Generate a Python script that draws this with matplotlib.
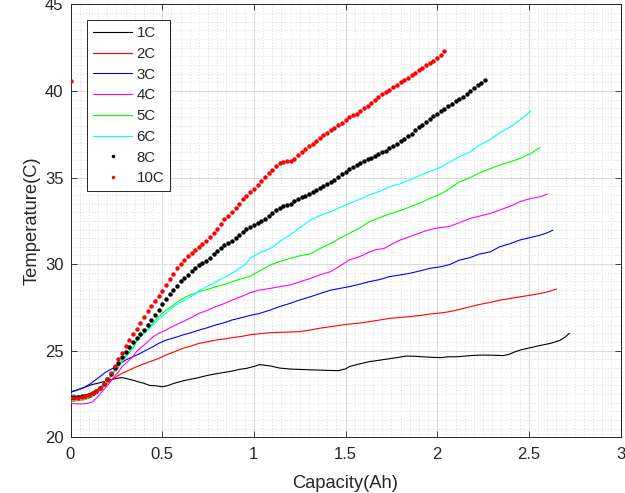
import matplotlib
matplotlib.use("Agg")
import matplotlib.pyplot as plt
from matplotlib.ticker import MultipleLocator

plt.rcParams['font.family'] = ['Liberation Sans', 'DejaVu Sans']

labels = ['1C', '2C', '3C', '4C', '5C', '6C', '8C', '10C']

cap_1c = [0.0, 0.04, 0.08, 0.12, 0.16, 0.21, 0.25, 0.28, 0.31, 0.34, 0.37, 0.40, 0.43, 0.47, 0.50, 0.53, 0.56, 0.60, 0.63, 0.67,
          0.70, 0.75, 0.79, 0.84, 0.88, 0.92, 0.96, 1.01, 1.03, 1.06, 1.09, 1.14, 1.20, 1.25, 1.30, 1.36, 1.41, 1.46, 1.50, 1.52,
          1.58, 1.63, 1.69, 1.74, 1.79, 1.83, 1.88, 1.92, 1.97, 2.02, 2.06, 2.11, 2.16, 2.20, 2.25, 2.30, 2.36, 2.39, 2.42, 2.46,
          2.51, 2.56, 2.62, 2.67, 2.70, 2.72]
temp_1c = [22.6, 22.75, 22.9, 23.05, 23.15, 23.3, 23.4, 23.45, 23.38, 23.3, 23.2, 23.12, 23.0, 22.97, 22.92, 22.98, 23.1, 23.22, 23.3, 23.38,
           23.45, 23.58, 23.66, 23.75, 23.82, 23.92, 23.98, 24.12, 24.2, 24.16, 24.12, 24.0, 23.94, 23.92, 23.9, 23.88, 23.86, 23.85, 23.95, 24.08,
           24.25, 24.37, 24.46, 24.54, 24.62, 24.69, 24.68, 24.65, 24.62, 24.6, 24.65, 24.65, 24.7, 24.73, 24.75, 24.74, 24.72, 24.78, 24.92, 25.06,
           25.18, 25.3, 25.43, 25.6, 25.8, 26.0]

cap_2c = [0.0, 0.04, 0.08, 0.12, 0.16, 0.21, 0.25, 0.28, 0.34, 0.39, 0.43, 0.48, 0.52, 0.57, 0.61, 0.66, 0.70, 0.75, 0.79, 0.84,
          0.88, 0.93, 0.98, 1.03, 1.09, 1.14, 1.20, 1.25, 1.31, 1.36, 1.42, 1.47, 1.52, 1.58, 1.63, 1.69, 1.74, 1.80, 1.85, 1.91,
          1.96, 2.02, 2.07, 2.12, 2.18, 2.23, 2.29, 2.34, 2.40, 2.45, 2.51, 2.56, 2.61, 2.65]
temp_2c = [22.34, 22.38, 22.44, 22.6, 22.85, 23.2, 23.5, 23.69, 23.98, 24.2, 24.36, 24.55, 24.75, 24.95, 25.13, 25.28, 25.42, 25.52, 25.61, 25.68,
           25.75, 25.82, 25.92, 25.98, 26.04, 26.06, 26.08, 26.1, 26.2, 26.3, 26.39, 26.47, 26.54, 26.6, 26.68, 26.78, 26.87, 26.92, 26.97, 27.04,
           27.12, 27.18, 27.26, 27.38, 27.54, 27.67, 27.79, 27.92, 28.02, 28.11, 28.21, 28.3, 28.42, 28.56]

cap_3c = [0.0, 0.03, 0.07, 0.11, 0.16, 0.19, 0.23, 0.27, 0.30, 0.34, 0.38, 0.41, 0.45, 0.48, 0.52, 0.57, 0.61, 0.66, 0.70, 0.75,
          0.79, 0.84, 0.88, 0.93, 0.98, 1.03, 1.09, 1.14, 1.20, 1.25, 1.31, 1.36, 1.42, 1.47, 1.52, 1.58, 1.63, 1.69, 1.74, 1.80,
          1.85, 1.91, 1.96, 2.02, 2.07, 2.12, 2.18, 2.23, 2.29, 2.34, 2.40, 2.45, 2.51, 2.56, 2.60, 2.63]
temp_3c = [22.63, 22.7, 22.85, 23.1, 23.5, 23.75, 23.98, 24.25, 24.46, 24.65, 24.84, 25.02, 25.23, 25.42, 25.61, 25.76, 25.9, 26.05, 26.19, 26.34,
           26.48, 26.62, 26.77, 26.9, 27.04, 27.15, 27.35, 27.55, 27.74, 27.93, 28.12, 28.3, 28.5, 28.6, 28.7, 28.85, 28.99, 29.12, 29.28, 29.38,
           29.47, 29.62, 29.76, 29.85, 29.98, 30.23, 30.38, 30.58, 30.71, 31.0, 31.19, 31.39, 31.54, 31.67, 31.81, 31.96]

cap_4c = [0.0, 0.03, 0.07, 0.10, 0.12, 0.15, 0.18, 0.21, 0.23, 0.26, 0.28, 0.31, 0.34, 0.36, 0.39, 0.42, 0.45, 0.48, 0.52, 0.56,
          0.61, 0.66, 0.70, 0.75, 0.79, 0.84, 0.88, 0.93, 0.98, 1.03, 1.09, 1.14, 1.20, 1.25, 1.31, 1.36, 1.42, 1.47, 1.52, 1.58,
          1.63, 1.67, 1.71, 1.76, 1.80, 1.84, 1.88, 1.93, 1.99, 2.07, 2.12, 2.18, 2.23, 2.29, 2.34, 2.40, 2.45, 2.51, 2.56, 2.60]
temp_4c = [21.96, 21.93, 21.93, 21.98, 22.05, 22.35, 22.73, 23.1, 23.4, 23.75, 24.07, 24.35, 24.65, 24.95, 25.23, 25.5, 25.8, 26.0, 26.19, 26.42,
           26.67, 26.92, 27.15, 27.35, 27.54, 27.73, 27.92, 28.12, 28.35, 28.5, 28.6, 28.7, 28.8, 28.98, 29.18, 29.38, 29.57, 29.9, 30.24, 30.45,
           30.7, 30.85, 30.9, 31.2, 31.4, 31.55, 31.7, 31.9, 32.07, 32.19, 32.39, 32.64, 32.77, 32.93, 33.12, 33.35, 33.6, 33.79, 33.89, 34.04]

cap_5c = [0.0, 0.03, 0.07, 0.10, 0.12, 0.15, 0.18, 0.21, 0.23, 0.26, 0.28, 0.31, 0.34, 0.36, 0.39, 0.42, 0.45, 0.47, 0.50, 0.53,
          0.56, 0.59, 0.63, 0.66, 0.70, 0.75, 0.79, 0.84, 0.88, 0.93, 0.98, 1.03, 1.09, 1.14, 1.20, 1.25, 1.31, 1.36, 1.42, 1.47,
          1.52, 1.58, 1.63, 1.69, 1.74, 1.80, 1.85, 1.91, 1.96, 2.02, 2.07, 2.12, 2.18, 2.23, 2.29, 2.34, 2.40, 2.45, 2.51, 2.56]
temp_5c = [22.05, 22.1, 22.15, 22.25, 22.34, 22.6, 22.92, 23.3, 23.69, 24.0, 24.36, 24.75, 25.13, 25.5, 25.9, 26.25, 26.58, 26.85, 27.15, 27.4,
           27.63, 27.88, 28.12, 28.25, 28.4, 28.55, 28.69, 28.83, 28.98, 29.15, 29.3, 29.6, 29.95, 30.15, 30.34, 30.48, 30.6, 30.9, 31.2, 31.5,
           31.78, 32.1, 32.45, 32.7, 32.9, 33.1, 33.3, 33.55, 33.8, 34.05, 34.37, 34.75, 35.0, 35.27, 35.52, 35.72, 35.91, 36.1, 36.39, 36.72]

cap_6c = [0.0, 0.0, 0.03, 0.07, 0.10, 0.12, 0.15, 0.18, 0.21, 0.23, 0.26, 0.28, 0.31, 0.34, 0.36, 0.39, 0.42, 0.45, 0.48, 0.52,
          0.55, 0.59, 0.63, 0.67, 0.70, 0.74, 0.78, 0.81, 0.85, 0.88, 0.92, 0.96, 0.98, 1.01, 1.04, 1.09, 1.14, 1.20, 1.25, 1.31,
          1.36, 1.42, 1.47, 1.52, 1.58, 1.63, 1.69, 1.74, 1.80, 1.85, 1.90, 1.96, 2.02, 2.07, 2.12, 2.18, 2.23, 2.29, 2.34, 2.40,
          2.45, 2.51]
temp_6c = [36.4, 22.5, 22.4, 22.4, 22.45, 22.53, 22.8, 23.11, 23.45, 23.78, 24.1, 24.46, 24.85, 25.23, 25.55, 25.9, 26.2, 26.48, 26.8, 27.15,
           27.45, 27.73, 27.97, 28.21, 28.45, 28.69, 28.9, 29.08, 29.28, 29.46, 29.75, 30.04, 30.34, 30.52, 30.7, 30.9, 31.3, 31.7, 32.1, 32.55,
           32.8, 33.03, 33.28, 33.5, 33.75, 33.99, 34.22, 34.47, 34.65, 34.86, 35.1, 35.35, 35.6, 35.91, 36.2, 36.49, 36.87, 37.2, 37.58, 37.93,
           38.32, 38.83]

cap_8c = [0.00, 0.02, 0.04, 0.06, 0.08, 0.10, 0.12, 0.14, 0.16, 0.18, 0.20, 0.22, 0.24, 0.26, 0.28, 0.30, 0.32, 0.34, 0.36, 0.38,
          0.40, 0.42, 0.44, 0.46, 0.48, 0.50, 0.52, 0.54, 0.56, 0.58, 0.60, 0.62, 0.64, 0.66, 0.68, 0.70, 0.72, 0.74, 0.76, 0.78,
          0.80, 0.82, 0.84, 0.86, 0.88, 0.90, 0.92, 0.94, 0.96, 0.98, 1.00, 1.02, 1.04, 1.06, 1.08, 1.10, 1.12, 1.14, 1.16, 1.18,
          1.20, 1.22, 1.24, 1.26, 1.28, 1.30, 1.32, 1.34, 1.36, 1.38, 1.40, 1.42, 1.44, 1.46, 1.48, 1.50, 1.52, 1.54, 1.56, 1.58,
          1.60, 1.62, 1.64, 1.66, 1.68, 1.70, 1.72, 1.74, 1.76, 1.78, 1.80, 1.82, 1.84, 1.86, 1.88, 1.90, 1.92, 1.94, 1.96, 1.98,
          2.00, 2.02, 2.04, 2.06, 2.08, 2.10, 2.12, 2.14, 2.16, 2.18, 2.20, 2.22, 2.24, 2.26]
temp_8c = [22.30, 22.31, 22.33, 22.36, 22.40, 22.45, 22.55, 22.66, 22.85, 23.08, 23.35, 23.66, 23.98, 24.31, 24.63, 24.95, 25.22, 25.48, 25.72, 25.96,
           26.20, 26.46, 26.75, 27.05, 27.38, 27.70, 27.98, 28.26, 28.52, 28.76, 29.00, 29.20, 29.40, 29.60, 29.78, 29.95, 30.08, 30.20, 30.36, 30.56,
           30.75, 30.92, 31.08, 31.22, 31.36, 31.50, 31.68, 31.88, 32.02, 32.14, 32.25, 32.36, 32.48, 32.62, 32.80, 32.95, 33.10, 33.24, 33.34, 33.42,
           33.50, 33.62, 33.74, 33.86, 33.96, 34.05, 34.16, 34.28, 34.40, 34.52, 34.65, 34.76, 34.88, 35.02, 35.18, 35.35, 35.48, 35.60, 35.72, 35.84,
           35.95, 36.05, 36.15, 36.25, 36.35, 36.45, 36.56, 36.68, 36.82, 36.96, 37.10, 37.24, 37.38, 37.54, 37.72, 37.90, 38.06, 38.22, 38.38, 38.54,
           38.70, 38.84, 38.98, 39.12, 39.26, 39.40, 39.54, 39.68, 39.82, 39.98, 40.15, 40.32, 40.48, 40.64]

cap_10c = [0.00, 0.00, 0.02, 0.04, 0.06, 0.08, 0.10, 0.12, 0.14, 0.16, 0.18, 0.20, 0.22, 0.24, 0.26, 0.28, 0.30, 0.32, 0.34, 0.36,
           0.38, 0.40, 0.42, 0.44, 0.46, 0.48, 0.50, 0.52, 0.54, 0.56, 0.58, 0.60, 0.62, 0.64, 0.66, 0.68, 0.70, 0.72, 0.74, 0.76,
           0.78, 0.80, 0.82, 0.84, 0.86, 0.88, 0.90, 0.92, 0.94, 0.96, 0.98, 1.00, 1.02, 1.04, 1.06, 1.08, 1.10, 1.12, 1.14, 1.16,
           1.18, 1.20, 1.22, 1.24, 1.26, 1.28, 1.30, 1.32, 1.34, 1.36, 1.38, 1.40, 1.42, 1.44, 1.46, 1.48, 1.50, 1.52, 1.54, 1.56,
           1.58, 1.60, 1.62, 1.64, 1.66, 1.68, 1.70, 1.72, 1.74, 1.76, 1.78, 1.80, 1.82, 1.84, 1.86, 1.88, 1.90, 1.92, 1.94, 1.96,
           1.98, 2.00, 2.02, 2.04]
temp_10c = [40.6, 22.25, 22.26, 22.27, 22.30, 22.36, 22.45, 22.55, 22.68, 22.85, 23.08, 23.35, 23.72, 24.10, 24.50, 24.88, 25.25, 25.60, 25.95, 26.28,
            26.62, 26.95, 27.28, 27.60, 27.90, 28.18, 28.45, 28.80, 29.15, 29.45, 29.75, 30.00, 30.25, 30.45, 30.65, 30.82, 31.00, 31.18, 31.36, 31.55,
            31.80, 32.05, 32.30, 32.58, 32.80, 33.02, 33.25, 33.50, 33.75, 33.95, 34.15, 34.35, 34.55, 34.80, 35.02, 35.25, 35.45, 35.65, 35.85, 35.92,
            35.94, 35.97, 36.10, 36.30, 36.48, 36.64, 36.80, 36.96, 37.12, 37.28, 37.44, 37.60, 37.74, 37.88, 38.02, 38.18, 38.35, 38.52, 38.60, 38.70,
            38.86, 39.00, 39.16, 39.32, 39.48, 39.64, 39.80, 39.94, 40.08, 40.22, 40.36, 40.50, 40.62, 40.76, 40.90, 41.05, 41.20, 41.34, 41.48, 41.62,
            41.76, 41.90, 42.08, 42.30]

x_ticks = [0, 0.5, 1, 1.5, 2, 2.5, 3]
y_ticks = [20, 25, 30, 35, 40, 45]

fig = plt.figure(figsize=(6.25, 4.93), dpi=100)
ax = fig.add_axes([0.1128, 0.113, 0.88, 0.878])

axc = '#262626'
line_series = [(cap_1c, temp_1c, 'k'), (cap_2c, temp_2c, '#ff0000'), (cap_3c, temp_3c, '#0000ff'),
               (cap_4c, temp_4c, '#ff00ff'), (cap_5c, temp_5c, '#00ff00'), (cap_6c, temp_6c, '#00ffff')]
for (cx, ty, col), lab in zip(line_series, labels[:6]):
    ax.plot(cx, ty, color=col, lw=0.8, label=lab, zorder=3)
ax.plot(cap_8c, temp_8c, 'o', color='k', ms=3.2, mew=0, label=labels[6], zorder=4)
ax.plot(cap_10c, temp_10c, 'o', color='#ff0000', ms=3.2, mew=0, label=labels[7], zorder=5)

ax.set_xlim(0, 3)
ax.set_ylim(20, 45)
ax.set_xticks(x_ticks)
ax.set_xticklabels(['0', '0.5', '1', '1.5', '2', '2.5', '3'])
ax.set_yticks(y_ticks)
ax.xaxis.set_minor_locator(MultipleLocator(0.05))
ax.yaxis.set_minor_locator(MultipleLocator(0.5))
ax.grid(True, which='major', color='#dcdcdc', lw=0.8, ls='-', zorder=0)
ax.grid(True, which='minor', color='#d2d2d2', lw=0.6, ls=(0, (1, 2.5)), zorder=0)
ax.set_axisbelow(True)

ax.tick_params(which='major', direction='in', length=4.5, width=0.6, color=axc,
               top=True, right=True, labelsize=12, labelcolor=axc)
ax.tick_params(axis='x', which='major', pad=7)
ax.tick_params(axis='y', which='major', pad=5)
ax.tick_params(which='minor', length=0, top=True, right=True)
for sp in ax.spines.values():
    sp.set_color(axc)
    sp.set_linewidth(0.7)

ax.set_xlabel('Capacity(Ah)', fontsize=13.2, color=axc, labelpad=9)
ax.set_ylabel('Temperature(C)', fontsize=13.2, color=axc, labelpad=3)

leg = ax.legend(loc='upper left', bbox_to_anchor=(0.03, 0.964), borderaxespad=0,
                fontsize=10.8, handlelength=2.6, handletextpad=0.3, labelspacing=0.45,
                borderpad=0.4, fancybox=False, framealpha=1, edgecolor=axc, markerscale=0.8)
leg.get_frame().set_linewidth(0.7)
for t in leg.get_texts():
    t.set_color(axc)

fig.savefig('out.png', dpi=100)
